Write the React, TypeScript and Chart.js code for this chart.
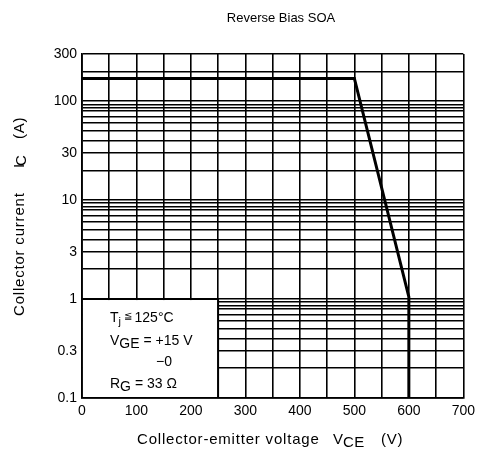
import React, { useEffect, useRef } from "react";
import { Chart, registerables } from "chart.js";

Chart.register(...registerables);

const FONT = '"Liberation Sans", Arial, Helvetica, sans-serif';

const TITLE = "Reverse Bias SOA";
const X_GRID = [0, 50, 100, 150, 200, 250, 300, 350, 400, 450, 500, 550, 600, 650, 700];
const X_LABELS = [0, 100, 200, 300, 400, 500, 600, 700];
const Y_GRID = [
  300, 200, 100, 93, 86, 80, 70, 60, 50, 40, 30, 20,
  10, 9.3, 8.6, 8, 7, 6, 5, 4, 3, 2,
  1, 0.93, 0.86, 0.8, 0.7, 0.6, 0.5, 0.4, 0.3, 0.2, 0.1,
];
const Y_LABELS = [300, 100, 30, 10, 3, 1, 0.3, 0.1];

// SOA boundary (VCE in V, IC in A)
const SOA_VCE = [0, 500, 600, 600];
const SOA_IC = [170, 170, 1.05, 0.1];

// conditions box extent
const BOX_VCE = 250;
const BOX_IC = 1;

type Run = { t: string; size: number; dy?: number; x?: number; ls?: number };

function drawRuns(ctx: CanvasRenderingContext2D, x: number, y: number, runs: Run[]) {
  let cx = x;
  ctx.textAlign = "left";
  ctx.textBaseline = "middle";
  for (const r of runs) {
    if (r.x !== undefined) cx = r.x;
    ctx.font = `${r.size}px ${FONT}`;
    (ctx as any).letterSpacing = `${r.ls || 0}px`;
    ctx.fillText(r.t, cx, y + (r.dy || 0));
    cx += ctx.measureText(r.t).width;
  }
  (ctx as any).letterSpacing = "0px";
}

const overlayPlugin = {
  id: "overlay",
  beforeDatasetsDraw(chart: any) {
    const { ctx, chartArea, scales } = chart;
    const xr = scales.x.getPixelForValue(BOX_VCE);
    const yt = scales.y.getPixelForValue(BOX_IC);
    ctx.save();
    ctx.fillStyle = "#fff";
    ctx.fillRect(chartArea.left + 1, yt + 1, xr - chartArea.left - 2, chartArea.bottom - yt - 2);
    ctx.strokeStyle = "#000";
    ctx.lineWidth = 1.8;
    ctx.beginPath();
    ctx.moveTo(chartArea.left, yt);
    ctx.lineTo(xr, yt);
    ctx.lineTo(xr, chartArea.bottom);
    ctx.stroke();
    ctx.restore();
  },
  afterDraw(chart: any) {
    const { ctx } = chart;
    ctx.save();
    ctx.fillStyle = "#000";
    // title
    ctx.font = `13px ${FONT}`;
    const tw = ctx.measureText(TITLE).width;
    drawRuns(ctx, 281 - tw / 2, 18, [{ t: TITLE, size: 13 }]);
    // x axis title
    drawRuns(ctx, 137, 440, [
      { t: "Collector-emitter voltage", size: 15, ls: 0.8 },
      { t: "V", size: 15, x: 333 },
      { t: "CE", size: 15, dy: 3, ls: 0.3 },
      { t: "(V)", size: 15, x: 381, ls: 0.8 },
    ]);
    // y axis title
    ctx.save();
    ctx.translate(20, 0);
    ctx.rotate(-Math.PI / 2);
    drawRuns(ctx, -316, 0, [
      { t: "Collector current", size: 15, ls: 0.8 },
      { t: "I", size: 15, x: -168 },
      { t: "C", size: 15, dy: 2, x: -166 },
      { t: "(A)", size: 15, x: -139, ls: 0.8 },
    ]);
    ctx.restore();
    // conditions
    const lx = 110;
    drawRuns(ctx, lx, 318, [
      { t: "T", size: 14 },
      { t: "j", size: 11, dy: 4 },
      { t: " ≦ ", size: 10, dy: -2 },
      { t: "125°C", size: 14 },
    ]);
    drawRuns(ctx, lx, 341, [
      { t: "V", size: 14 },
      { t: "GE", size: 14, dy: 3 },
      { t: " = +15 V", size: 14 },
    ]);
    drawRuns(ctx, 156, 362, [{ t: "−0", size: 14 }]);
    drawRuns(ctx, lx, 384, [
      { t: "R", size: 14 },
      { t: "G", size: 14, dy: 3 },
      { t: " = 33 Ω", size: 14 },
    ]);
    ctx.restore();
  },
};

export default function App() {
  const ref = useRef<HTMLCanvasElement | null>(null);
  useEffect(() => {
    if (!ref.current) return;
    const chart = new Chart(ref.current, {
      type: "scatter",
      data: {
        datasets: [
          {
            data: SOA_VCE.map((v, i) => ({ x: v, y: SOA_IC[i] })),
            showLine: true,
            borderColor: "#000",
            borderWidth: 3,
            pointRadius: 0,
            tension: 0,
            fill: false,
          },
        ],
      },
      options: {
        animation: false,
        responsive: false,
        events: [],
        layout: { padding: { top: 54, right: 14, left: 0, bottom: 0 } },
        plugins: { legend: { display: false }, title: { display: false }, tooltip: { enabled: false } },
        scales: {
          x: {
            type: "linear",
            min: 0,
            max: 700,
            afterFit: (s: any) => {
              s.height = 54;
            },
            afterBuildTicks: (s: any) => {
              s.ticks = X_GRID.map((v) => ({ value: v }));
            },
            ticks: {
              autoSkip: false,
              maxRotation: 0,
              padding: 5,
              color: "#000",
              font: { family: FONT, size: 14 },
              callback: (v: any) => (X_LABELS.includes(Number(v)) ? String(v) : ""),
            },
            grid: { color: "#000", lineWidth: 1.6, drawTicks: false },
            border: { color: "#000", width: 1.8 },
          },
          y: {
            type: "logarithmic",
            min: 0.1,
            max: 300,
            afterFit: (s: any) => {
              s.width = 82;
            },
            afterBuildTicks: (s: any) => {
              s.ticks = Y_GRID.map((v) => ({ value: v }));
            },
            ticks: {
              autoSkip: false,
              padding: 5,
              color: "#000",
              font: { family: FONT, size: 14 },
              callback: (v: any) => {
                const n = Number(v);
                const hit = Y_LABELS.find((l) => Math.abs(l - n) / l < 1e-6);
                return hit !== undefined ? String(hit) : "";
              },
            },
            grid: { color: "#000", lineWidth: 1.6, drawTicks: false },
            border: { color: "#000", width: 1.8 },
          },
        },
      },
      plugins: [overlayPlugin],
    } as any);
    return () => chart.destroy();
  }, []);
  return (
    <div style={{ position: "fixed", left: 0, top: 0, width: 480, height: 452, background: "#fff" }}>
      <canvas ref={ref} width={480} height={452} style={{ width: 480, height: 452, display: "block" }} />
    </div>
  );
}
